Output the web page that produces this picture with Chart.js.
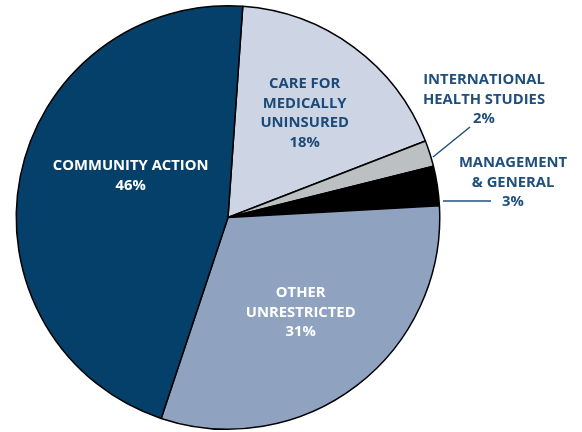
<!DOCTYPE html>
<html>
<head>
<meta charset="utf-8">
<script src="https://cdn.jsdelivr.net/npm/chart.js@4/dist/chart.umd.min.js"></script>
<style>
  html, body { margin: 0; padding: 0; background: #fff; }
  #wrap { width: 582px; height: 432px; }
</style>
</head>
<body>
<div id="wrap"><canvas id="pieChart" width="582" height="432"></canvas></div>
<script>
// data, clockwise from the top
const categories = [
  ["CARE FOR", "MEDICALLY", "UNINSURED"],
  ["INTERNATIONAL", "HEALTH STUDIES"],
  ["MANAGEMENT", "& GENERAL"],
  ["OTHER", "UNRESTRICTED"],
  ["COMMUNITY ACTION"],
];
const shares = [18, 2, 3, 31, 46];

const sliceColors = ["#cdd4e4", "#bcc0c3", "#000000", "#8fa3c0", "#05406b"];

// label placement: inside slices or outside with a leader line
const labelStyle = [
  { inside: true, color: "#1b4a78", angleShift: 0, dist: 0.61 },
  { inside: false, color: "#1f4f7d", from: [433, 157], to: [470, 127], text: [484, 80] },
  { inside: false, color: "#1f4f7d", from: [443, 201], to: [491, 201], text: [513, 163] },
  { inside: true, color: "#ffffff", angleShift: 0, dist: 0.565 },
  { inside: true, color: "#ffffff", angleShift: 12, dist: 0.5 },
];

const sliceLabels = {
  id: "sliceLabels",
  afterDatasetsDraw(chart) {
    const ctx = chart.ctx;
    const arcs = chart.getDatasetMeta(0).data;
    ctx.save();
    ctx.font = "bold 14.8px 'Open Sans', sans-serif";
    ctx.textAlign = "center";
    ctx.textBaseline = "middle";
    const lineH = 19.5;
    arcs.forEach((arc, i) => {
      const st = labelStyle[i];
      const lines = categories[i].concat([shares[i] + "%"]);
      let cx, top;
      if (st.inside) {
        const mid = (arc.startAngle + arc.endAngle) / 2 + st.angleShift * Math.PI / 180;
        const r = arc.outerRadius * st.dist;
        cx = arc.x + Math.cos(mid) * r;
        const cy = arc.y + Math.sin(mid) * r;
        top = cy - (lines.length - 1) * lineH / 2;
      } else {
        ctx.strokeStyle = st.color;
        ctx.lineWidth = 1.5;
        ctx.beginPath();
        ctx.moveTo(st.from[0], st.from[1]);
        ctx.lineTo(st.to[0], st.to[1]);
        ctx.stroke();
        cx = st.text[0];
        top = st.text[1];
      }
      ctx.fillStyle = st.color;
      lines.forEach((ln, k) => ctx.fillText(ln, cx, top + k * lineH));
    });
    ctx.restore();
  },
};

const ctx = document.getElementById("pieChart").getContext("2d");
new Chart(ctx, {
  type: "pie",
  data: {
    labels: categories.map((c) => c.join(" ")),
    datasets: [
      {
        data: shares,
        backgroundColor: sliceColors,
        borderColor: "#000000",
        borderWidth: 1.5,
      },
    ],
  },
  options: {
    responsive: false,
    animation: false,
    rotation: 4,
    layout: {
      padding: { left: 15, right: 141, top: 5, bottom: 2 },
    },
    plugins: {
      legend: { display: false },
      tooltip: { enabled: false },
    },
  },
  plugins: [sliceLabels],
});
</script>
</body>
</html>
